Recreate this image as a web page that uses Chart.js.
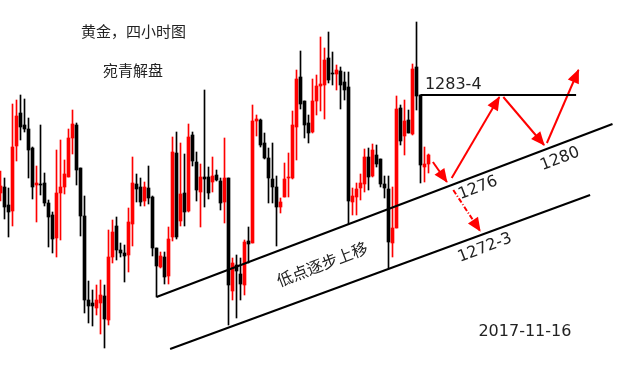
<!DOCTYPE html>
<html>
<head>
<meta charset="utf-8">
<script src="https://cdn.jsdelivr.net/npm/chart.js@4.4.0/dist/chart.umd.min.js"></script>
<style>
html, body { margin: 0; padding: 0; background: #fff; }
#wrap { width: 632px; height: 369px; }
</style>
</head>
<body>
<div id="wrap"><canvas id="goldChart" width="632" height="369"></canvas></div>
<script>
// 4h gold candles, oldest first
const opens = [1273.7,1274.3,1272.5,1271.9,1278.4,1281.7,1280.5,1280.1,1278.2,1274.5,
  1274.6,1274.7,1272.7,1271.5,1269.2,1273.7,1274.3,1275.3,1279.2,1280.5,
  1276.2,1271.4,1263.0,1262.7,1262.2,1262.7,1263.4,1261.0,1267.3,1270.4,
  1268.0,1267.7,1267.5,1270.6,1274.6,1274.3,1272.9,1274.2,1273.3,1268.2,
  1266.3,1267.3,1265.4,1269.3,1277.7,1270.9,1273.7,1271.9,1279.5,1276.8,
  1273.8,1275.3,1275.3,1274.8,1275.5,1274.9,1272.8,1275.2,1263.9,1266.5,
  1265.6,1264.5,1268.9,1268.7,1280.9,1281.0,1278.7,1277.2,1275.1,1274.3,
  1272.3,1273.3,1275.2,1275.2,1280.3,1285.3,1282.9,1280.7,1279.8,1282.9,
  1284.4,1284.5,1287.2,1285.7,1285.6,1285.9,1284.8,1284.3,1272.8,1273.3,
  1274.2,1274.6,1277.3,1275.4,1277.5,1277.1,1274.6,1274.1,1268.7,1270.2,
  1282.2,1279.4,1281.0,1279.6,1286.3,1283.5,1276.3,1276.6];
const highs = [1275.9,1275.2,1274.2,1282.6,1283.0,1283.5,1283.1,1281.2,1278.3,1276.4,
  1280.5,1275.7,1273.0,1271.8,1278.0,1279.0,1277.0,1280.1,1282.0,1280.7,
  1276.2,1273.4,1264.9,1264.0,1264.5,1265.0,1264.5,1270.0,1271.0,1271.3,
  1268.7,1268.5,1272.2,1277.3,1275.6,1275.2,1274.8,1276.4,1273.4,1268.2,
  1267.8,1267.8,1270.3,1279.3,1279.8,1278.7,1277.6,1280.6,1279.8,1277.8,
  1276.6,1284.0,1276.3,1277.3,1276.0,1275.2,1279.2,1275.2,1267.2,1267.5,
  1267.2,1269.0,1270.3,1282.5,1281.5,1281.1,1279.7,1278.2,1278.7,1275.4,
  1273.2,1276.7,1277.7,1281.9,1286.0,1287.9,1282.9,1281.5,1285.1,1285.5,
  1289.3,1288.2,1289.8,1287.8,1286.5,1286.3,1285.8,1285.8,1274.2,1274.7,
  1275.6,1278.1,1278.2,1278.6,1278.5,1277.1,1275.4,1275.4,1274.3,1283.4,
  1282.5,1283.0,1282.0,1286.6,1290.8,1283.5,1278.3,1277.6];
const lows = [1272.9,1271.1,1269.3,1270.4,1276.9,1279.0,1279.8,1275.2,1273.1,1270.8,
  1273.5,1272.4,1268.3,1267.7,1267.3,1269.0,1273.6,1275.3,1277.6,1274.5,
  1269.4,1261.7,1260.7,1260.4,1261.5,1259.6,1258.2,1260.5,1266.7,1267.0,
  1267.3,1264.8,1265.8,1268.4,1272.8,1272.4,1272.4,1272.6,1267.4,1263.3,
  1266.2,1264.6,1264.6,1268.9,1269.1,1270.4,1270.4,1271.8,1276.4,1272.9,
  1270.3,1272.3,1273.1,1273.8,1274.9,1272.0,1270.7,1260.5,1263.0,1261.2,
  1263.0,1263.5,1266.7,1268.7,1279.4,1278.3,1277.1,1272.7,1272.7,1268.4,
  1271.7,1273.3,1273.3,1275.1,1277.0,1282.1,1279.2,1278.7,1279.7,1281.5,
  1281.9,1281.1,1284.7,1284.5,1284.0,1282.1,1283.0,1270.6,1271.5,1271.5,
  1273.0,1273.8,1274.0,1275.3,1276.3,1274.3,1273.2,1266.2,1267.3,1270.2,
  1278.5,1277.5,1279.7,1279.5,1282.0,1274.7,1274.8,1275.7];
const closes = [1274.4,1272.3,1271.8,1278.3,1281.4,1280.3,1280.1,1278.0,1274.3,1274.7,
  1274.5,1272.7,1271.3,1269.1,1273.7,1274.3,1275.6,1279.2,1280.6,1276.0,
  1271.4,1263.0,1262.4,1262.4,1263.0,1263.5,1261.1,1267.3,1269.8,1268.0,
  1267.7,1267.4,1270.8,1274.7,1274.1,1272.8,1274.3,1273.2,1268.2,1266.4,
  1267.4,1265.3,1269.1,1277.8,1269.3,1273.6,1271.8,1279.3,1276.9,1274.0,
  1275.3,1275.1,1273.7,1275.4,1275.0,1272.7,1275.2,1264.5,1266.7,1265.9,
  1264.6,1268.8,1268.6,1280.9,1281.1,1278.5,1277.2,1275.2,1274.3,1272.3,
  1272.8,1275.1,1275.3,1280.5,1285.1,1282.6,1280.5,1279.7,1282.9,1284.4,
  1284.6,1287.0,1285.0,1285.6,1286.0,1284.5,1284.0,1272.9,1273.4,1274.1,
  1274.7,1277.3,1275.3,1278.0,1276.6,1274.6,1274.2,1268.8,1270.2,1282.1,
  1278.9,1280.9,1279.7,1286.1,1283.4,1276.5,1276.6,1277.5];

// drawn analysis, points are [candle index, price]
const upperChannel = [[39, 1263.3], [153, 1280.6]];
const lowerChannel = [[42.4, 1258.1], [147.4, 1273.5]];
const resistance = [[105, 1283.5], [143.9, 1283.5]];
const arrowPaths = [
  [[108.1, 1276.8], [111.6, 1274.8]],
  [[112.8, 1275.2], [124.7, 1283.3]],
  [[125.7, 1283.3], [135.9, 1278.5]],
  [[136.6, 1278.7], [144.5, 1286.0]]
];
const dashedArrow = [[113.2, 1274.0], [119.9, 1269.9]];

const notes = [
  { text: '黄金，四小时图', x: 20.1, y: 1289.9, size: 15, angle: 0, align: 'left', cjk: true },
  { text: '宛青解盘', x: 25.6, y: 1286.0, size: 15, angle: 0, align: 'left', cjk: true },
  { text: '1283-4', x: 106.1, y: 1284.5, size: 16, angle: 0, align: 'left' },
  { text: '1276', x: 119.4, y: 1274.2, size: 16, angle: -21, align: 'center' },
  { text: '1280', x: 139.9, y: 1277.1, size: 16, angle: -21, align: 'center' },
  { text: '1272-3', x: 121.1, y: 1268.2, size: 16, angle: -21, align: 'center' },
  { text: '低点逐步上移', x: 80.4, y: 1266.6, size: 16, angle: -21, align: 'center', cjk: true },
  { text: '2017-11-16', x: 131.1, y: 1259.8, size: 16, angle: 0, align: 'center' }
];

const UP = '#ff0000';
const DOWN = '#000000';

const candleColors = opens.map((o, i) => closes[i] >= o ? UP : DOWN);
const wickData = opens.map((o, i) => ({ x: i, y: [lows[i], highs[i]] }));
const bodyData = opens.map((o, i) => ({ x: i, y: [Math.min(o, closes[i]), Math.max(o, closes[i])] }));

function toXY(pts) {
  return pts.map(p => ({ x: p[0], y: p[1] }));
}

function lineSet(pts, color, dash) {
  return {
    type: 'line',
    data: toXY(pts),
    borderColor: color,
    borderWidth: 2,
    borderDash: dash || [],
    pointRadius: 0,
    fill: false,
    tension: 0,
    order: 0
  };
}

const notesPlugin = {
  id: 'notes',
  afterDatasetsDraw(chart) {
    const { ctx, scales: { x, y } } = chart;

    // arrow heads on the red arrows
    arrowPaths.concat([dashedArrow]).forEach(path => {
      const a = path[path.length - 2];
      const b = path[path.length - 1];
      const x1 = x.getPixelForValue(a[0]), y1 = y.getPixelForValue(a[1]);
      const x2 = x.getPixelForValue(b[0]), y2 = y.getPixelForValue(b[1]);
      const ang = Math.atan2(y2 - y1, x2 - x1);
      ctx.save();
      ctx.translate(x2, y2);
      ctx.rotate(ang);
      ctx.fillStyle = UP;
      ctx.beginPath();
      ctx.moveTo(1, 0);
      ctx.lineTo(-13, -6);
      ctx.lineTo(-13, 6);
      ctx.closePath();
      ctx.fill();
      ctx.restore();
    });

    notes.forEach(n => {
      ctx.save();
      ctx.translate(x.getPixelForValue(n.x), y.getPixelForValue(n.y));
      ctx.rotate(n.angle * Math.PI / 180);
      ctx.fillStyle = '#222';
      ctx.font = n.size + 'px ' + (n.cjk ? '"Noto Sans CJK SC", "DejaVu Sans", sans-serif' : '"DejaVu Sans", sans-serif');
      ctx.textAlign = n.align;
      ctx.textBaseline = 'middle';
      ctx.fillText(n.text, 0, 0);
      ctx.restore();
    });
  }
};

const chart = new Chart(document.getElementById('goldChart'), {
  type: 'bar',
  data: {
    datasets: [
      lineSet(upperChannel, '#000'),
      lineSet(lowerChannel, '#000'),
      lineSet(resistance, '#000'),
      ...arrowPaths.map(p => lineSet(p, UP)),
      lineSet(dashedArrow, UP, [5, 2, 1, 2]),
      {
        label: 'body',
        data: bodyData,
        backgroundColor: candleColors,
        barThickness: 3,
        minBarLength: 1,
        grouped: false,
        borderWidth: 0,
        order: 1
      },
      {
        label: 'wick',
        data: wickData,
        backgroundColor: candleColors,
        barThickness: 1,
        grouped: false,
        borderWidth: 0,
        order: 2
      }
    ]
  },
  options: {
    responsive: false,
    animation: false,
    layout: { padding: 0 },
    plugins: {
      legend: { display: false },
      tooltip: { enabled: false }
    },
    scales: {
      x: { type: 'linear', min: -0.125, max: 157.875, offset: false, display: false },
      y: { min: 1256.1, max: 1293, display: false }
    }
  },
  plugins: [notesPlugin]
});
</script>
</body>
</html>
